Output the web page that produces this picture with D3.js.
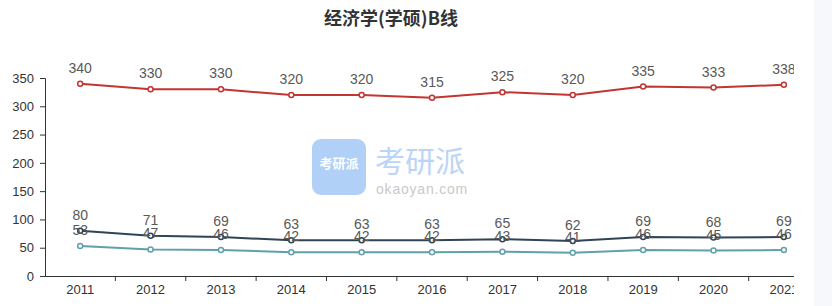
<!DOCTYPE html>
<html>
<head>
<meta charset="utf-8">
<script src="https://cdn.jsdelivr.net/npm/d3@7"></script>
<style>
  body { margin: 0; background: #fff; }
  svg text { font-family: "Liberation Sans", "Noto Sans CJK SC", sans-serif; }
</style>
</head>
<body>
<div id="chart"></div>
<script>
const years    = ["2011", "2012", "2013", "2014", "2015", "2016", "2017", "2018", "2019", "2020", "2021"];
const total    = [340, 330, 330, 320, 320, 315, 325, 320, 335, 333, 338];
const single1  = [80, 71, 69, 63, 63, 63, 65, 62, 69, 68, 69];
const single2  = [53, 47, 46, 42, 42, 42, 43, 41, 46, 45, 46];
const yTicks   = [0, 50, 100, 150, 200, 250, 300, 350];

const series = [
	{ name: "total", values: total,   color: "#c23531" },
	{ name: "s1",    values: single1, color: "#2f4554" },
	{ name: "s2",    values: single2, color: "#61a0a8" }
];

let canvasWidth  = 832;
let canvasHeight = 306;
let margin = { top: 78, left: 45 };
let band   = 70.37;
let width  = band * years.length;
let height = 198;

let svg = d3.select("#chart").append("svg")
	.attr("width", canvasWidth)
	.attr("height", canvasHeight);

// grey side panel on the right
svg.append("rect")
	.attr("x", 814).attr("y", 0)
	.attr("width", canvasWidth - 814).attr("height", canvasHeight)
	.attr("fill", "#f7f8fb");

svg.append("defs").append("clipPath").attr("id", "clip")
	.append("rect").attr("x", 0).attr("y", 0).attr("width", 794).attr("height", canvasHeight);

svg.append("text")
	.attr("x", 391).attr("y", 25)
	.attr("text-anchor", "middle")
	.attr("font-size", 18).attr("font-weight", "bold")
	.attr("fill", "#333")
	.style("font-family", "'Noto Sans CJK SC', sans-serif")
	.text("经济学(学硕)B线");

let root = svg.append("g").attr("clip-path", "url(#clip)");

// watermark
let wm = root.append("g").attr("opacity", 0.9);
wm.append("rect")
	.attr("x", 312).attr("y", 139).attr("width", 54).attr("height", 56).attr("rx", 9)
	.attr("fill", "#a9cbf7");
wm.append("text")
	.attr("x", 339).attr("y", 168).attr("text-anchor", "middle")
	.attr("font-size", 13).attr("font-weight", "bold").attr("fill", "#fff")
	.style("font-family", "'Noto Sans CJK SC', sans-serif")
	.text("考研派");
wm.append("text")
	.attr("x", 375).attr("y", 172)
	.attr("font-size", 30).attr("fill", "#b4d0f7")
	.style("font-family", "'Noto Sans CJK SC', sans-serif")
	.text("考研派");
wm.append("text")
	.attr("x", 376).attr("y", 194)
	.attr("font-size", 14).attr("fill", "#c4c4c4").attr("letter-spacing", 0.8)
	.text("okaoyan.com");

let g = root.append("g").attr("transform", "translate(" + margin.left + "," + margin.top + ")");

let x = d3.scaleBand().domain(years).range([0, width]);
let y = d3.scaleLinear().domain([0, 350]).range([height, 0]);

let yAxis = g.append("g")
	.call(d3.axisLeft(y).tickValues(yTicks).tickSize(5).tickPadding(6));
yAxis.select(".domain").attr("stroke", "#333");
yAxis.selectAll(".tick line").attr("stroke", "#333");
yAxis.selectAll(".tick text").attr("font-size", 13).attr("fill", "#333");

let xAxis = g.append("g")
	.attr("transform", "translate(0," + height + ")")
	.call(d3.axisBottom(x).tickSize(0).tickPadding(9));
xAxis.select(".domain").attr("stroke", "#333");
xAxis.selectAll(".tick text").attr("font-size", 13).attr("fill", "#333");
xAxis.selectAll("line.bound")
	.data(years.slice(1)).enter()
	.append("line").attr("class", "bound")
	.attr("x1", (d) => x(d)).attr("x2", (d) => x(d))
	.attr("y1", 0).attr("y2", 5)
	.attr("stroke", "#333");

let line = d3.line()
	.x((d, i) => x(years[i]) + x.bandwidth() / 2)
	.y((d) => y(d));

series.forEach((s) => {
	g.append("path")
		.datum(s.values)
		.attr("d", line)
		.attr("fill", "none")
		.attr("stroke", s.color)
		.attr("stroke-width", 2);
});

series.forEach((s) => {
	g.append("g").selectAll("circle")
		.data(s.values).enter()
		.append("circle")
			.attr("cx", (d, i) => x(years[i]) + x.bandwidth() / 2)
			.attr("cy", (d) => y(d))
			.attr("r", 2.5)
			.attr("fill", "#fff")
			.attr("stroke", s.color)
			.attr("stroke-width", 1.5);
});

series.forEach((s) => {
	g.append("g").selectAll("text")
		.data(s.values).enter()
		.append("text")
			.attr("x", (d, i) => x(years[i]) + x.bandwidth() / 2)
			.attr("y", (d) => y(d) - 11)
			.attr("text-anchor", "middle")
			.attr("font-size", 14)
			.attr("fill", "#595959")
			.text((d) => d);
});
</script>
</body>
</html>
